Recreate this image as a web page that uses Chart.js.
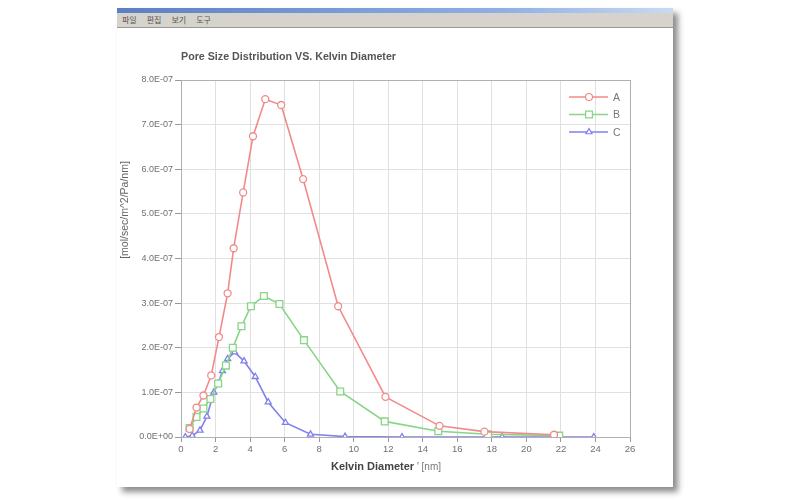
<!DOCTYPE html>
<html>
<head>
<meta charset="utf-8">
<script src="https://cdn.jsdelivr.net/npm/chart.js@4/dist/chart.umd.min.js"></script>
<style>
  html, body { margin: 0; padding: 0; background: #fff; }
  #wrap { position: relative; width: 800px; height: 500px; overflow: hidden; }
  #win {
    position: absolute; left: 117px; top: 8px; width: 556px; height: 479px;
    background: #fff; box-shadow: 5px 5px 6px rgba(0,0,0,0.45);
  }
  #titlebar { height: 5px; background: linear-gradient(to right, #5b7fc4, #8fb0e6 70%, #c9daf3); }
  #menubar {
    height: 14px; background: #d6d3cc; border-bottom: 1px solid #9a9790;
    font: 8px "Noto Sans CJK KR", sans-serif; color: #555; line-height: 14px; padding-left: 5px;
  }
  #menubar span { margin-right: 10px; }
  canvas { position: absolute; left: 0; top: 0; }
</style>
</head>
<body>
<div id="wrap">
  <div id="win">
    <div id="titlebar"></div>
    <div id="menubar"><span>파일</span><span>편집</span><span>보기</span><span>도구</span></div>
  </div>
  <canvas id="poreChart" width="800" height="500"></canvas>
</div>
<script>
// Kelvin diameter [nm]
const xA = [0.5, 0.9, 1.3, 1.75, 2.2, 2.7, 3.05, 3.6, 4.17, 4.88, 5.8, 7.07, 9.1, 11.84, 14.97, 17.57, 21.6];
const yA = [0.18e-7, 0.66e-7, 0.93e-7, 1.38e-7, 2.24e-7, 3.22e-7, 4.23e-7, 5.48e-7, 6.74e-7, 7.57e-7, 7.44e-7, 5.78e-7, 2.93e-7, 0.9e-7, 0.25e-7, 0.12e-7, 0.05e-7];

const xB = [0.5, 0.9, 1.3, 1.7, 2.15, 2.6, 3.0, 3.5, 4.05, 4.8, 5.7, 7.12, 9.22, 11.8, 14.9, 17.78, 21.9];
const yB = [0.2e-7, 0.45e-7, 0.64e-7, 0.85e-7, 1.2e-7, 1.6e-7, 2.0e-7, 2.48e-7, 2.93e-7, 3.16e-7, 2.98e-7, 2.17e-7, 1.02e-7, 0.35e-7, 0.13e-7, 0.06e-7, 0.03e-7];

const xC = [0.25, 0.65, 1.1, 1.5, 1.9, 2.15, 2.4, 2.7, 3.1, 3.65, 4.3, 5.05, 6.05, 7.5, 9.5, 12.8, 18.6, 23.9];
const yC = [0.0, 0.03e-7, 0.15e-7, 0.46e-7, 1.0e-7, 1.2e-7, 1.48e-7, 1.75e-7, 1.9e-7, 1.7e-7, 1.35e-7, 0.78e-7, 0.32e-7, 0.06e-7, 0.01e-7, 0.0, 0.0, 0.0];

const seriesNames = ['A', 'B', 'C'];
const xTicks = [0, 2, 4, 6, 8, 10, 12, 14, 16, 18, 20, 22, 24, 26];
const yTicks = [0, 1e-7, 2e-7, 3e-7, 4e-7, 5e-7, 6e-7, 7e-7, 8e-7];

const chartTitle = 'Pore Size Distribution VS. Kelvin Diameter';
const yTitle = '[mol/sec/m^2/Pa/nm]';

function pairs(xs, ys) {
  return xs.map((x, i) => ({ x: x, y: ys[i] }));
}

// 8.0E-07 style
function sci(v) {
  if (Math.abs(v) < 1e-12) return '0.0E+00';
  const parts = v.toExponential(1).split('e');
  const exp = parseInt(parts[1], 10);
  const sign = exp < 0 ? '-' : '+';
  return parts[0] + 'E' + sign + String(Math.abs(exp)).padStart(2, '0');
}

// same shapes as chart.js draws them
function drawMarker(ctx, style, x, y, r) {
  ctx.beginPath();
  if (style === 'rect') {
    const s = r * Math.SQRT1_2;
    ctx.rect(x - s, y - s, 2 * s, 2 * s);
  } else if (style === 'triangle') {
    ctx.moveTo(x, y - r);
    ctx.lineTo(x + r * 0.866, y + r * 0.5);
    ctx.lineTo(x - r * 0.866, y + r * 0.5);
    ctx.closePath();
  } else {
    ctx.arc(x, y, r, 0, Math.PI * 2);
  }
  ctx.fill();
  ctx.stroke();
}

// title, axis titles, box and legend
const decor = {
  id: 'decor',
  afterDraw(chart) {
    const { ctx, chartArea: a } = chart;
    ctx.save();
    // plot box
    ctx.strokeStyle = '#b0b0b0';
    ctx.lineWidth = 1;
    ctx.strokeRect(a.left + 0.5, a.top + 0.5, a.right - a.left, a.bottom - a.top);

    ctx.fillStyle = '#555';
    ctx.font = 'bold 10.7px "Liberation Sans", Arial, sans-serif';
    ctx.textBaseline = 'middle';
    ctx.textAlign = 'left';
    ctx.fillText(chartTitle, a.left, 57);

    // x title
    const xt1 = 'Kelvin Diameter';
    const xt2 = " ' [nm]";
    const f1 = 'bold 11px "Liberation Sans", Arial, sans-serif';
    const f2 = '10px "Liberation Sans", Arial, sans-serif';
    ctx.font = f1;
    const w1 = ctx.measureText(xt1).width;
    ctx.font = f2;
    const w2 = ctx.measureText(xt2).width;
    const x0 = 386 - (w1 + w2) / 2;
    ctx.fillStyle = '#444';
    ctx.font = f1;
    ctx.fillText(xt1, x0, 467);
    ctx.fillStyle = '#777';
    ctx.font = f2;
    ctx.fillText(xt2, x0 + w1, 467);

    // y title
    ctx.translate(125, 210);
    ctx.rotate(-Math.PI / 2);
    ctx.textAlign = 'center';
    ctx.fillStyle = '#666';
    ctx.font = '10.5px "Liberation Sans", Arial, sans-serif';
    ctx.fillText(yTitle, 0, 0);
    ctx.setTransform(1, 0, 0, 1, 0, 0);
    ctx.scale(chart.currentDevicePixelRatio, chart.currentDevicePixelRatio);

    // legend
    chart.data.datasets.forEach((ds, i) => {
      const y = 97 + i * 17.5;
      ctx.strokeStyle = ds.borderColor;
      ctx.lineWidth = 1.5;
      ctx.beginPath();
      ctx.moveTo(569, y);
      ctx.lineTo(608, y);
      ctx.stroke();
      ctx.fillStyle = '#fff';
      ctx.lineWidth = 1.2;
      drawMarker(ctx, ds.pointStyle, 589, y, ds.pointRadius);
      ctx.fillStyle = '#777';
      ctx.font = '10.5px "Liberation Sans", Arial, sans-serif';
      ctx.textAlign = 'left';
      ctx.fillText(ds.label, 613, y + 1);
    });
    ctx.restore();
  }
};

const ctx = document.getElementById('poreChart').getContext('2d');

const poreChart = new Chart(ctx, {
  type: 'line',
  data: {
    datasets: [
      {
        label: seriesNames[0],
        data: pairs(xA, yA),
        borderColor: '#f28a8a',
        pointStyle: 'circle',
        pointRadius: 3.5
      },
      {
        label: seriesNames[1],
        data: pairs(xB, yB),
        borderColor: '#86d686',
        pointStyle: 'rect',
        pointRadius: 4.8
      },
      {
        label: seriesNames[2],
        data: pairs(xC, yC),
        borderColor: '#8080ee',
        pointStyle: 'triangle',
        pointRadius: 3.5
      }
    ].map(ds => Object.assign(ds, {
      borderWidth: 1.6,
      pointBackgroundColor: '#fff',
      pointBorderColor: ds.borderColor,
      pointBorderWidth: 1.3,
      tension: 0,
      fill: false
    }))
  },
  plugins: [decor],
  options: {
    responsive: false,
    animation: false,
    layout: { padding: { left: 0, right: 170, top: 80, bottom: 43 } },
    plugins: {
      legend: { display: false },
      tooltip: { enabled: false }
    },
    scales: {
      x: {
        type: 'linear',
        min: xTicks[0],
        max: xTicks[xTicks.length - 1],
        afterBuildTicks: (s) => { s.ticks = xTicks.map(v => ({ value: v })); },
        afterFit: (s) => { s.height = 20; },
        border: { color: '#999' },
        grid: { color: '#e0e0e0', tickColor: '#999', tickLength: 5 },
        ticks: {
          color: '#707070',
          padding: 2,
          maxRotation: 0,
          font: { size: 9.5, family: '"Liberation Sans", Arial, sans-serif' }
        }
      },
      y: {
        min: yTicks[0],
        max: yTicks[yTicks.length - 1],
        afterBuildTicks: (s) => { s.ticks = yTicks.map(v => ({ value: v })); },
        afterFit: (s) => { s.width = 181; },
        border: { color: '#999' },
        grid: { color: '#e0e0e0', tickColor: '#999', tickLength: 6 },
        ticks: {
          color: '#707070',
          padding: 2,
          callback: (v) => sci(v),
          font: { size: 9, family: '"Liberation Sans", Arial, sans-serif' }
        }
      }
    }
  }
});
</script>
</body>
</html>
